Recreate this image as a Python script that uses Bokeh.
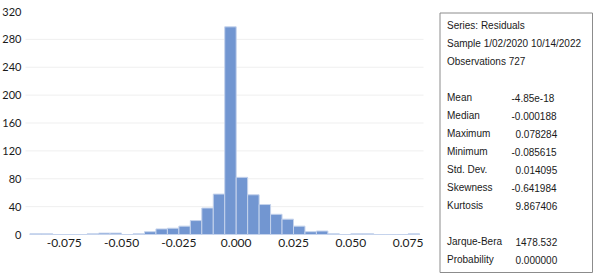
from bokeh.plotting import figure
from bokeh.models import Range1d, FixedTicker
from bokeh.core.properties import value
from bokeh.embed import file_html
from bokeh.resources import INLINE

# ---- data ----
bin_left = [-0.090, -0.085, -0.080, -0.075, -0.070, -0.065, -0.060, -0.055, -0.050, -0.045,
            -0.040, -0.035, -0.030, -0.025, -0.020, -0.015, -0.010, -0.005, 0.000, 0.005,
            0.010, 0.015, 0.020, 0.025, 0.030, 0.035, 0.040, 0.045, 0.050, 0.055,
            0.060, 0.065, 0.070, 0.075]
counts = [1, 1, 0, 0, 0, 1, 2, 2, 0, 1,
          4, 8, 9, 12, 20, 38, 58, 298, 82, 57,
          43, 29, 22, 12, 4, 5, 1, 0, 1, 1,
          0, 0, 0, 1]
bin_width = 0.005
x_ticks = [-0.075, -0.050, -0.025, 0.0, 0.025, 0.050, 0.075]
x_tick_labels = ["-0.075", "-0.050", "-0.025", "0.000", "0.025", "0.050", "0.075"]
y_ticks = [0, 40, 80, 120, 160, 200, 240, 280, 320]

header_lines = ["Series: Residuals", "Sample 1/02/2020 10/14/2022", "Observations 727"]
stat_names = ["Mean", "Median", "Maximum", "Minimum", "Std. Dev.", "Skewness", "Kurtosis"]
stat_values = ["-4.85e-18", "-0.000188", "0.078284", "-0.085615", "0.014095", "-0.641984", "9.867406"]
test_names = ["Jarque-Bera", "Probability"]
test_values = ["1478.532", "0.000000"]

TICK_FONT = "Lato"
STAT_FONT = "Liberation Sans"
TXT = "#1a1a1a"

W, H = 595, 274
FL, FR, FT, FB = 25, 423, 11, 234          # histogram plot area, page pixels
XMIN, XMAX, YMIN, YMAX = -0.0919, 0.0817, 0, 320

sx = (XMAX - XMIN) / (FR - FL)
sy = (YMAX - YMIN) / (FB - FT)

p = figure(width=W, height=H, output_backend="svg", toolbar_location=None,
           x_range=Range1d(XMIN - FL * sx, XMAX + (W - FR) * sx),
           y_range=Range1d(YMIN - (H - FB) * sy, YMAX + FT * sy),
           min_border=0, min_border_left=0, min_border_right=0,
           min_border_top=0, min_border_bottom=0)
p.outline_line_color = None
p.background_fill_color = "white"
p.border_fill_color = "white"
p.grid.visible = False

# pixel-coordinate ranges (y downward) for the statistics panel
p.extra_x_ranges = {"px": Range1d(0, W)}
p.extra_y_ranges = {"px": Range1d(H, 0)}

# horizontal gridlines across the plot area
grid_vals = y_ticks[1:-1]
p.segment(x0=[XMIN] * len(grid_vals), x1=[XMAX] * len(grid_vals),
          y0=grid_vals, y1=grid_vals, line_color="#efefef", line_width=1)

right = [l + bin_width for l in bin_left]
p.quad(left=bin_left, right=right, bottom=0, top=counts,
       fill_color="#7296d1", line_color="#c5d3ec", line_width=1)

p.xaxis.fixed_location = YMIN
p.yaxis.fixed_location = XMIN
p.xaxis.ticker = FixedTicker(ticks=x_ticks)
p.xaxis.major_label_overrides = {t: s for t, s in zip(x_ticks, x_tick_labels)}
p.yaxis.ticker = FixedTicker(ticks=y_ticks)
for ax in (p.xaxis, p.yaxis):
    ax.axis_line_color = None
    ax.major_tick_line_color = None
    ax.minor_tick_line_color = None
    ax.major_tick_out = 0
    ax.major_tick_in = 0
    ax.major_label_text_font = TICK_FONT
    ax.major_label_text_color = TXT
p.xaxis.major_label_text_font_size = "12px"
p.yaxis.major_label_text_font_size = "11px"
p.xaxis.major_label_standoff = 4
p.yaxis.major_label_standoff = 4

# ---- stats box ----
p.quad(left=[439.5], right=[592], top=[12.5], bottom=[272],
       x_range_name="px", y_range_name="px",
       fill_color=None, line_color="#8c8c8c", line_width=1)

line_h = 18
y0 = 25
tx = 446.5
vx = 511
xs, ys, txt = [], [], []
for i, t in enumerate(header_lines):
    xs.append(tx); ys.append(y0 + line_h * i); txt.append(t)
rows = [(n, v, 4 + i) for i, (n, v) in enumerate(zip(stat_names, stat_values))]
rows += [(n, v, 12 + i) for i, (n, v) in enumerate(zip(test_names, test_values))]
for n, v, k in rows:
    xs.append(tx); ys.append(y0 + line_h * k); txt.append(n)
    xs.append(vx + (0 if v.startswith("-") else 4)); ys.append(y0 + line_h * k); txt.append(v)

p.text(x=xs, y=ys, text=txt, x_range_name="px", y_range_name="px",
       text_font=value(STAT_FONT), text_font_size="10px",
       text_baseline="middle", text_align="left", text_color=TXT)

open("out.html", "w").write(file_html(p, INLINE))
